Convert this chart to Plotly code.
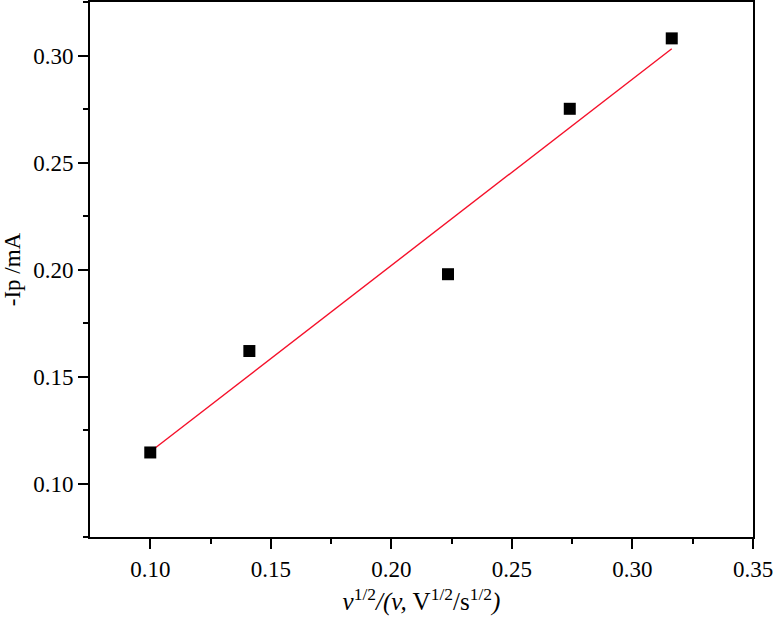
import numpy as np
import plotly.graph_objects as go

x_vals = [0.1000, 0.1411, 0.2235, 0.2740, 0.3163]
y_vals = [0.1145, 0.1619, 0.1978, 0.2751, 0.3080]

x_tick_vals = [0.10, 0.15, 0.20, 0.25, 0.30, 0.35]
x_tick_text = ["0.10", "0.15", "0.20", "0.25", "0.30", "0.35"]
y_tick_vals = [0.10, 0.15, 0.20, 0.25, 0.30]
y_tick_text = ["0.10", "0.15", "0.20", "0.25", "0.30"]

slope, intercept = np.polyfit(x_vals, y_vals, 1)
fit_x = [min(x_vals), max(x_vals)]
fit_y = [slope * v + intercept for v in fit_x]

FONT = "Liberation Serif"

fig = go.Figure()
fig.add_trace(go.Scatter(x=fit_x, y=fit_y, mode="lines",
                         line=dict(color="#f5102a", width=1.4), showlegend=False))
fig.add_trace(go.Scatter(x=x_vals, y=y_vals, mode="markers",
                         marker=dict(symbol="square", size=12, color="black",
                                     line=dict(width=0)), showlegend=False))

axis_common = dict(showline=True, linecolor="black", linewidth=2, mirror=True,
                   ticks="outside", ticklen=10, tickwidth=2, tickcolor="black",
                   showgrid=False, zeroline=False,
                   tickfont=dict(family=FONT, size=23, color="black"))

fig.update_xaxes(range=[0.075, 0.35], tickvals=x_tick_vals, ticktext=x_tick_text,
                 minor=dict(ticks="outside", ticklen=5, tickwidth=2, tickcolor="black",
                            tickvals=[0.125, 0.175, 0.225, 0.275, 0.325]),
                 title=dict(text="<i>v</i><sup>1/2</sup><i>/(v,</i> V<sup>1/2</sup>/s<sup>1/2</sup><i>)</i>",
                            font=dict(family=FONT, size=25, color="black"), standoff=12),
                 **axis_common)
fig.update_yaxes(range=[0.075, 0.325], tickvals=y_tick_vals, ticktext=y_tick_text,
                 minor=dict(ticks="outside", ticklen=5, tickwidth=2, tickcolor="black",
                            tickvals=[0.075, 0.125, 0.175, 0.225, 0.275, 0.325]),
                 title=dict(text="-Ip /mA", font=dict(family=FONT, size=23, color="black"),
                            standoff=6),
                 **axis_common)

fig.update_layout(width=774, height=627, plot_bgcolor="white", paper_bgcolor="white",
                  margin=dict(l=90, r=21, t=2, b=90, autoexpand=False))

fig.write_html("out.html", config={"displayModeBar": False},
               post_script="document.body.style.margin='0';")
